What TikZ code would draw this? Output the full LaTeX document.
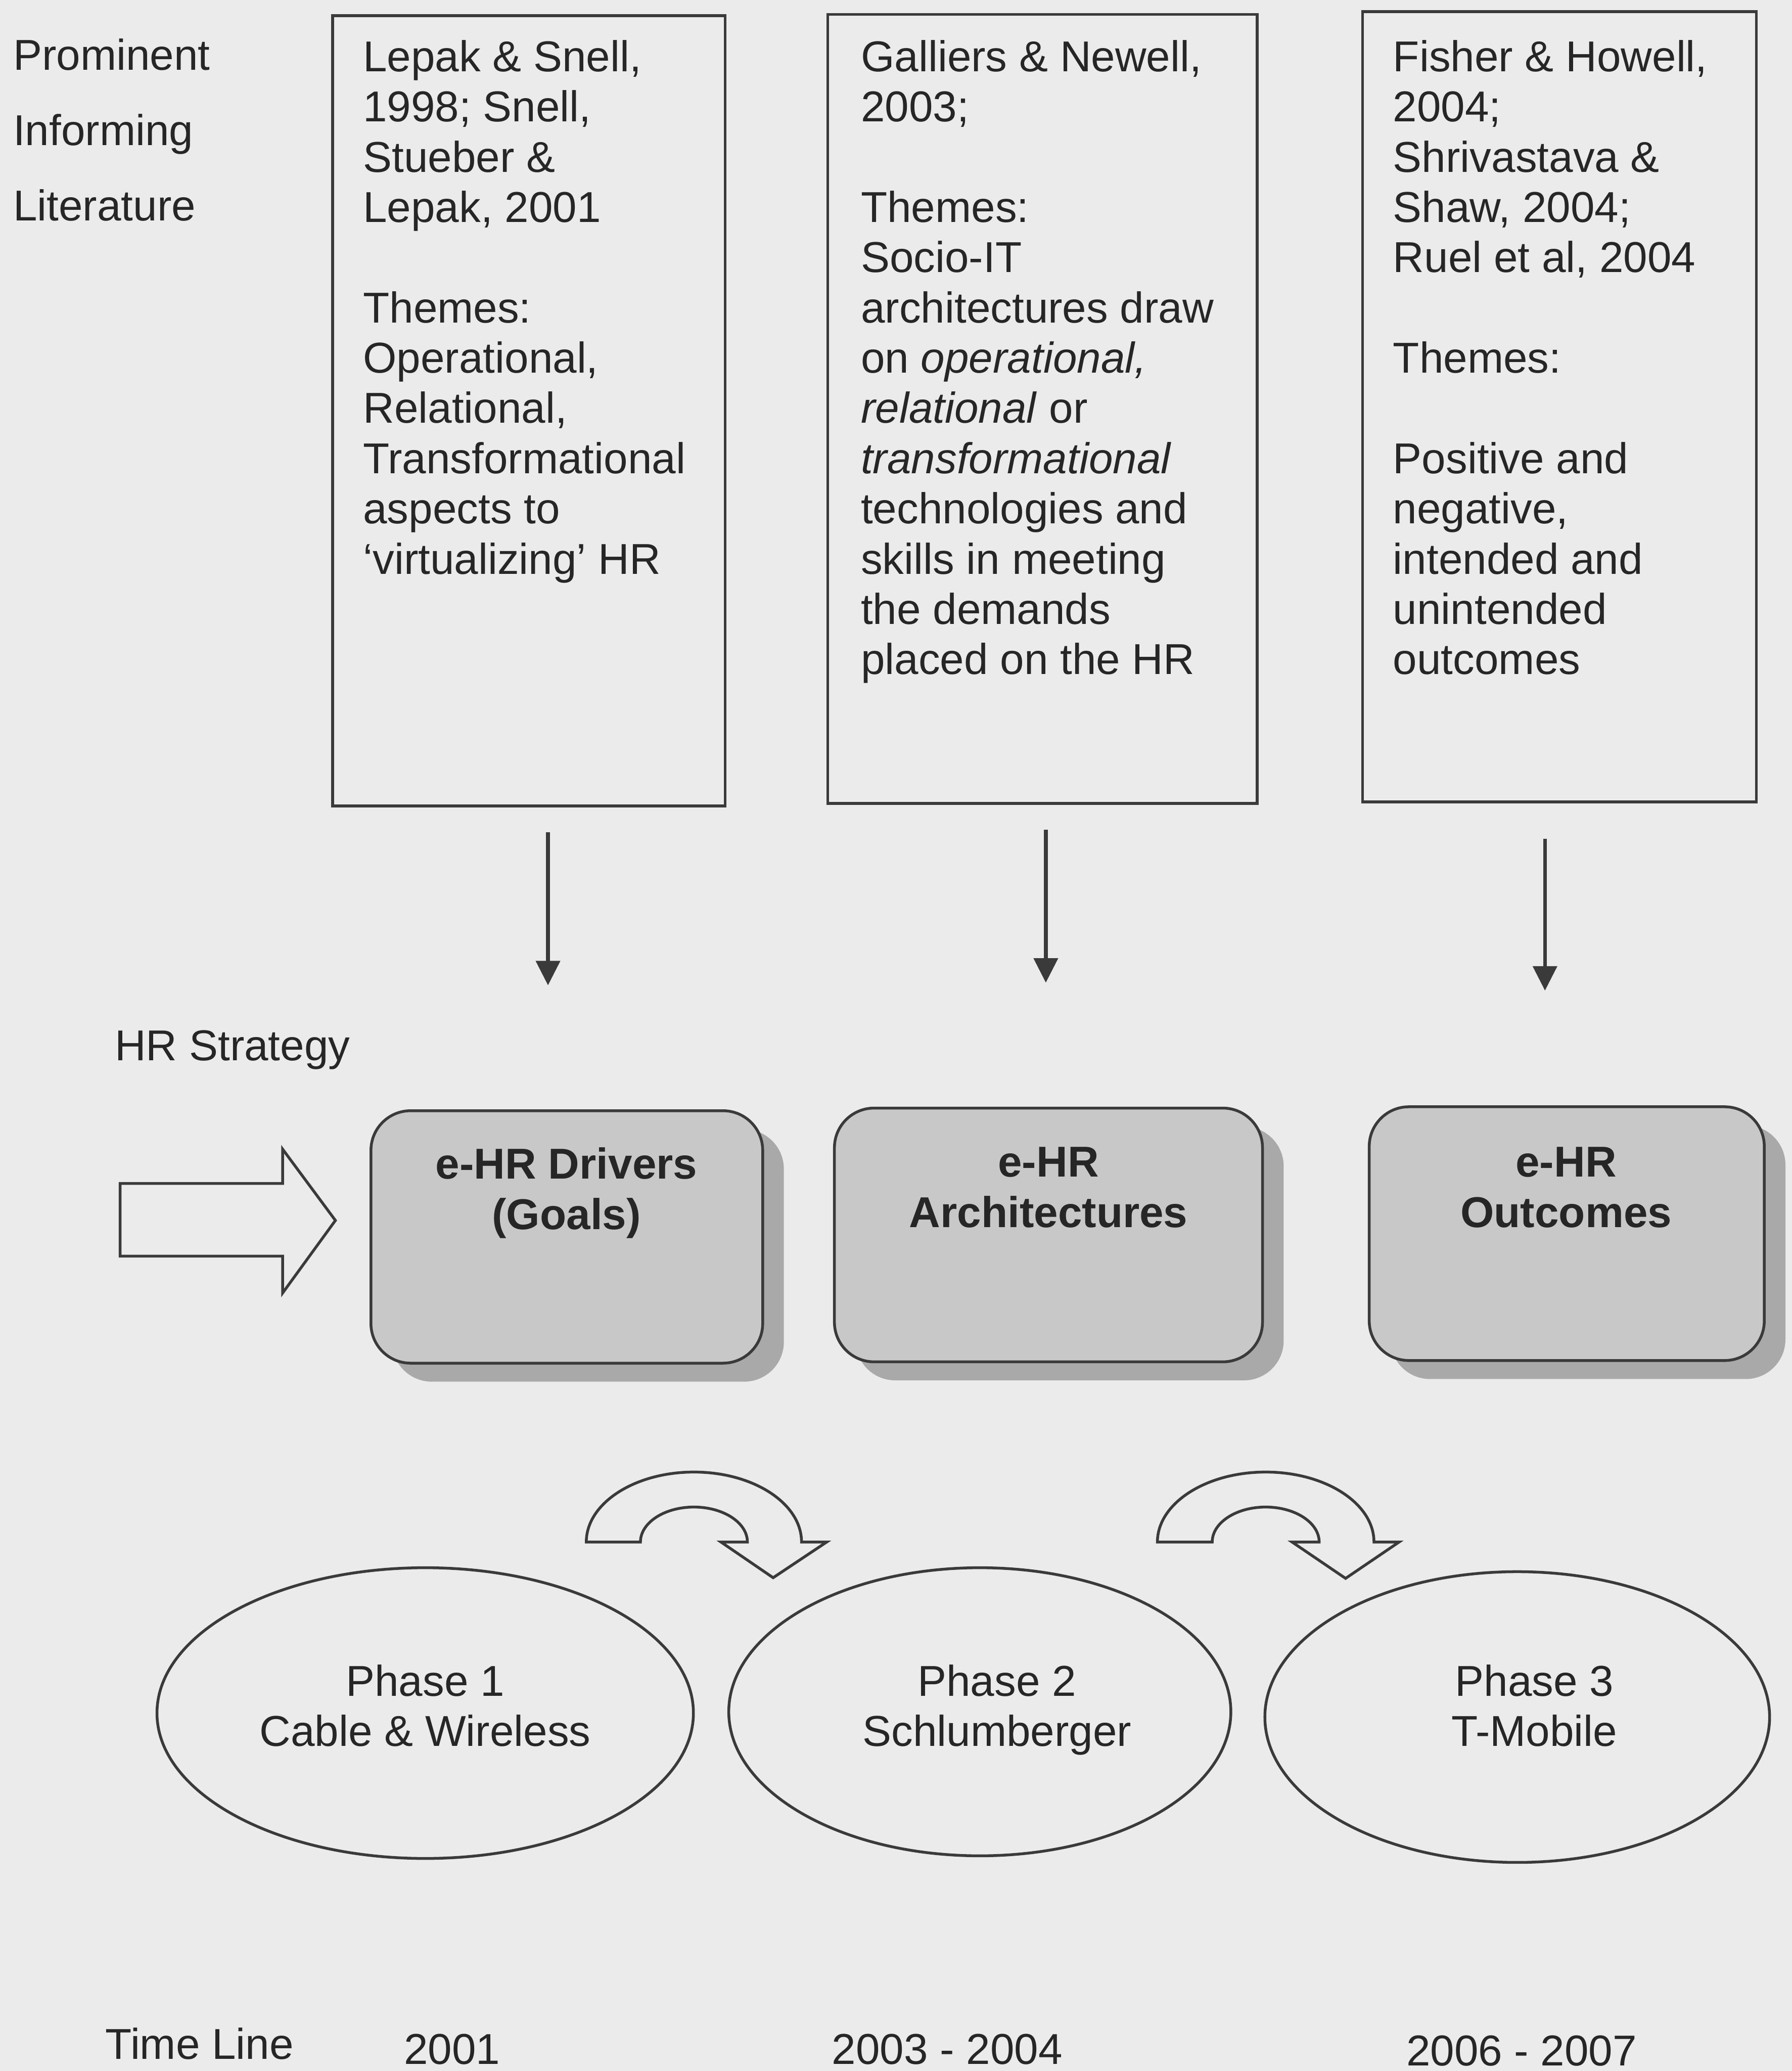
\documentclass[tikz,border=0pt]{standalone}
\usepackage{fontspec}
\setmainfont{Liberation Sans}
\usetikzlibrary{shapes.geometric,shadows,arrows.meta}
\definecolor{bgc}{HTML}{EBEBEB}
\definecolor{linec}{HTML}{3A3A3A}
\definecolor{textc}{HTML}{262626}
\definecolor{boxfill}{HTML}{C8C8C8}
\definecolor{shadowc}{HTML}{A9A9A9}
\begin{document}
\begin{tikzpicture}[x=0.01cm,y=-0.01cm,
  every node/.style={inner sep=0pt,outer sep=0pt,text=textc,font=\fontsize{9.3}{10.82}\selectfont},
  litbox/.style={draw=linec,line width=0.6pt,rectangle},
  littext/.style={align=left,anchor=north west},
  lbl/.style={anchor=base west},
  rbox/.style={draw=linec,line width=0.6pt,fill=boxfill,rectangle,rounded corners=0.3cm,
    drop shadow={shadow xshift=0.16cm,shadow yshift=-0.14cm,fill=shadowc,opacity=1}},
  rtext/.style={align=center,anchor=north,font=\fontsize{9.3}{10.82}\selectfont\bfseries},
  phase/.style={draw=linec,line width=0.6pt,ellipse},
  ptext/.style={align=center,anchor=north},
  downarrow/.style={draw=linec,line width=0.8pt,-{Triangle[width=0.18cm,length=0.185cm]}},
  bigarrow/.style={draw=linec,line width=0.6pt,line join=miter},
]
\useasboundingbox (0,0) rectangle (1357,1568);
\fill[bgc] (0,0) rectangle (1357,1568);

% left labels
\node[lbl] (prom) at (10,53) {Prominent};
\node[lbl] (inf) at (10,110) {Informing};
\node[lbl] (lit) at (10,167) {Literature};

% literature boxes
\node[litbox,minimum width=2.97cm,minimum height=5.98cm] (L1) at (400.5,311) {};
\node[litbox,minimum width=3.25cm,minimum height=5.97cm] (L2) at (789.5,309.5) {};
\node[litbox,minimum width=2.98cm,minimum height=5.98cm] (L3) at (1181,308) {};

\node[littext] (L1t) at (275,27.4) {\strut Lepak \& Snell,\\1998; Snell,\\Stueber \&\\Lepak, 2001\\[10.82pt]Themes:\\Operational,\\Relational,\\Transformational\\aspects to\\‘virtualizing’ HR};
\node[littext] (L2t) at (652,27.4) {\strut Galliers \& Newell,\\2003;\\[10.82pt]Themes:\\Socio-IT\\architectures draw\\on \textit{operational,}\\\textit{relational} or\\\textit{transformational}\\technologies and\\skills in meeting\\the demands\\placed on the HR};
\node[littext] (L3t) at (1055,27.4) {\strut Fisher \& Howell,\\2004;\\Shrivastava \&\\Shaw, 2004;\\Ruel et al, 2004\\[10.82pt]Themes:\\[10.82pt]Positive and\\negative,\\intended and\\unintended\\outcomes};

% down arrows
\coordinate (d1s) at (415,630);
\coordinate (d1e) at (415,746);
\coordinate (d2s) at (792,628);
\coordinate (d2e) at (792,744);
\coordinate (d3s) at (1170,635);
\coordinate (d3e) at (1170,750);
\draw[downarrow] (d1s) -- (d1e);
\draw[downarrow] (d2s) -- (d2e);
\draw[downarrow] (d3s) -- (d3e);

% HR strategy
\node[lbl] (hrs) at (87,803) {HR Strategy};
\draw[bigarrow] (91,896) -- (214,896) -- (214,870) -- (254,924) -- (214,979) -- (214,951) -- (91,951) -- cycle;

% rounded boxes
\node[rbox,minimum width=2.965cm,minimum height=1.91cm] (RA) at (429.25,936.5) {};
\node[rbox,minimum width=3.24cm,minimum height=1.92cm] (RB) at (794,935) {};
\node[rbox,minimum width=2.99cm,minimum height=1.92cm] (RC) at (1186.5,934) {};
\node[rtext] (RAt) at (429,866) {\strut e-HR Drivers\\(Goals)};
\node[rtext] (RBt) at (794,864.4) {\strut e-HR\\Architectures};
\node[rtext] (RCt) at (1186,864.4) {\strut e-HR\\Outcomes};

% curved arrows
\draw[bigarrow] (444,1167.5) arc[start angle=180,end angle=360,x radius=81.5,y radius=53]
  -- (626,1167.5) -- (585.5,1194.5) -- (546,1167.5) -- (566,1167.5)
  arc[start angle=360,end angle=180,x radius=40.5,y radius=26.5] -- cycle;
\draw[bigarrow] (876.5,1167.5) arc[start angle=180,end angle=360,x radius=82,y radius=53]
  -- (1059.5,1167.5) -- (1019,1195) -- (978.5,1167.5) -- (999,1167.5)
  arc[start angle=360,end angle=180,x radius=40.5,y radius=26.5] -- cycle;

% phases
\node[phase,minimum width=4.06cm,minimum height=2.20cm] (P1) at (322,1297) {};
\node[phase,minimum width=3.80cm,minimum height=2.18cm] (P2) at (742,1296) {};
\node[phase,minimum width=3.82cm,minimum height=2.20cm] (P3) at (1149,1300) {};
\node[ptext] (P1t) at (322,1257.4) {\strut Phase 1\\Cable \& Wireless};
\node[ptext] (P2t) at (755,1257.4) {\strut Phase 2\\Schlumberger};
\node[ptext] (P3t) at (1162,1257.4) {\strut Phase 3\\T-Mobile};

% time line
\node[lbl] (tl) at (80,1559) {Time Line};
\node[lbl] (y1) at (306,1563) {2001};
\node[lbl] (y2) at (630,1563) {2003 - 2004};
\node[lbl] (y3) at (1065,1564) {2006 - 2007};
\end{tikzpicture}
\end{document}
